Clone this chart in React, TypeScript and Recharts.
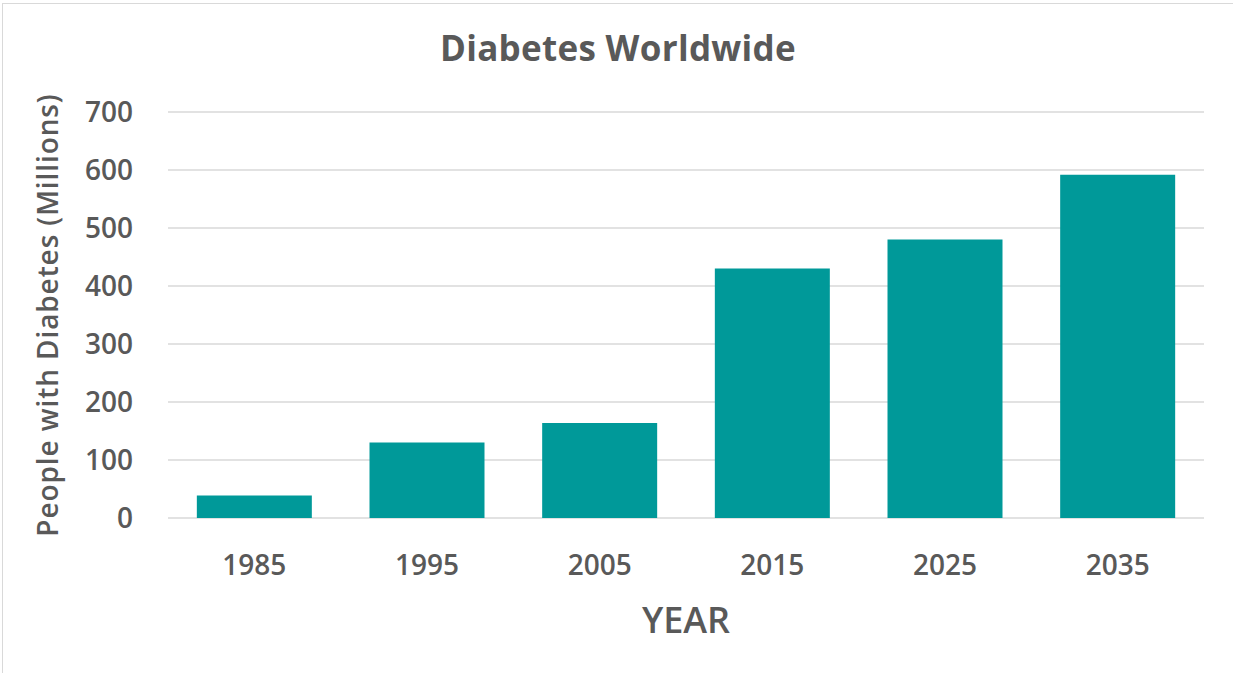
import { BarChart, Bar, XAxis, YAxis, CartesianGrid, Label } from 'recharts';

const years = ['1985', '1995', '2005', '2015', '2025', '2035'];
const peopleMillions = [39, 130, 164, 430, 480, 592];
const yTicks = [0, 100, 200, 300, 400, 500, 600, 700];

const data = years.map((year, i) => ({ year, people: peopleMillions[i] }));

const FONT = '"Open Sans", "Noto Sans", sans-serif';
const GRAY = '#595959';

export default function App() {
  return (
    <div
      style={{
        position: 'fixed',
        left: 0,
        top: 0,
        width: 1233,
        height: 673,
        background: '#fff',
        overflow: 'hidden',
        fontFamily: FONT,
      }}
    >
      <div
        style={{
          position: 'absolute',
          left: 2,
          top: 3,
          width: 1260,
          height: 700,
          borderLeft: '1.5px solid #d9d9d9',
          borderTop: '1.5px solid #d9d9d9',
        }}
      />
      <div
        style={{
          position: 'absolute',
          left: 0,
          top: 30,
          width: 1236,
          textAlign: 'center',
          fontSize: 35,
          lineHeight: '35px',
          letterSpacing: 0.3,
          fontWeight: 700,
          color: GRAY,
        }}
      >
        Diabetes Worldwide
      </div>
      <div style={{ position: 'absolute', left: 0, top: 0 }}>
        <BarChart
          width={1233}
          height={673}
          data={data}
          margin={{ top: 112, right: 29, bottom: 125, left: 108 }}
          barCategoryGap='16.7%'
        >
          <CartesianGrid vertical={false} stroke='#d9d9d9' strokeWidth={1.5} />
          <XAxis
            dataKey='year'
            height={30}
            axisLine={false}
            tickLine={false}
            tickSize={0}
            tickMargin={37}
            tick={{ fill: GRAY, fontSize: 28, fontFamily: FONT, fontWeight: 600 }}
          >
            <Label
              content={({ viewBox }: any) => (
                <text
                  x={viewBox.x + viewBox.width / 2}
                  y={633}
                  textAnchor='middle'
                  fill={GRAY}
                  fontSize={36}
                  fontWeight={600}
                  fontFamily={FONT}
                >
                  YEAR
                </text>
              )}
            />
          </XAxis>
          <YAxis
            width={60}
            domain={[0, 700]}
            ticks={yTicks}
            axisLine={false}
            tickLine={false}
            tickSize={0}
            tickMargin={35}
            tick={{ fill: GRAY, fontSize: 28, fontFamily: FONT, fontWeight: 600 }}
          >
            <Label
              content={({ viewBox }: any) => {
                const cy = viewBox.y + viewBox.height / 2;
                return (
                  <text
                    x={58}
                    y={cy}
                    transform={`rotate(-90, 58, ${cy})`}
                    textAnchor='middle'
                    fill={GRAY}
                    fontSize={28}
                    letterSpacing={0.9}
                    fontWeight={600}
                    fontFamily={FONT}
                  >
                    People with Diabetes (Millions)
                  </text>
                );
              }}
            />
          </YAxis>
          <Bar dataKey='people' fill='#009999' isAnimationActive={false} />
        </BarChart>
      </div>
    </div>
  );
}
